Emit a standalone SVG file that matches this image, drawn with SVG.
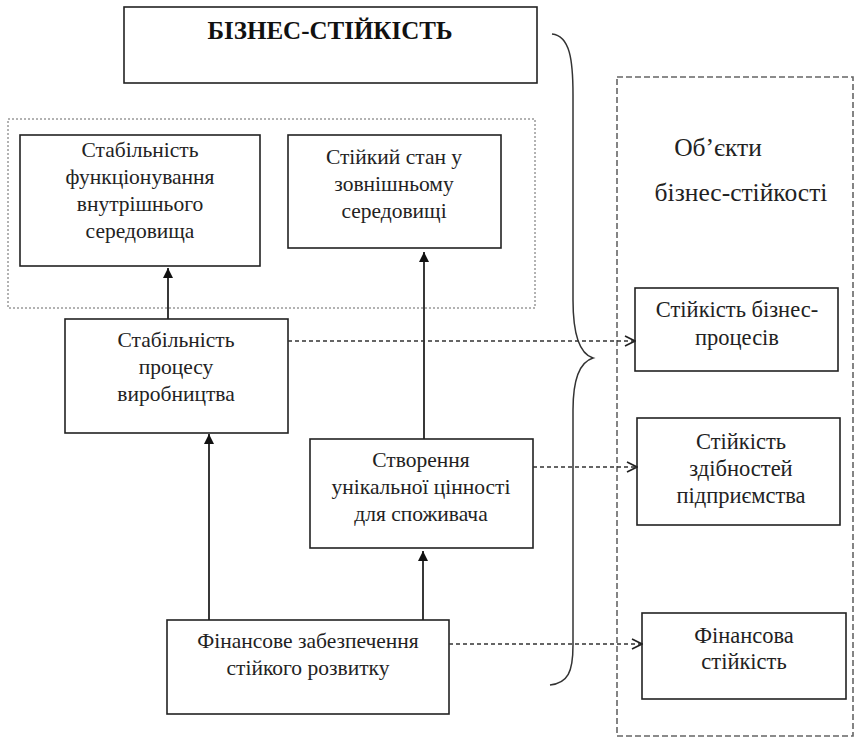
<svg xmlns="http://www.w3.org/2000/svg" width="857" height="739" viewBox="0 0 857 739">
<style>
.box{fill:#fff;stroke:#222;stroke-width:1.6}
text{font-family:'Liberation Serif','DejaVu Serif',serif;fill:#222;text-anchor:middle}
.t{font-size:21.5px}
.tb{font-size:25px;font-weight:bold;fill:#111}
.tr{font-size:22.5px}
.tl{font-size:25.5px}
.solid{stroke:#222;stroke-width:1.8;fill:none}
.dash{stroke:#333;stroke-width:1.6;stroke-dasharray:4 3;fill:none}
</style>
<defs>
<marker id="tri" viewBox="0 0 10 10" refX="10" refY="5" markerWidth="10" markerHeight="12" markerUnits="userSpaceOnUse" orient="auto">
<path d="M0,0 L10,5 L0,10 z" fill="#111"/>
</marker>
<marker id="open" viewBox="0 0 12 12" refX="11" refY="6" markerWidth="12" markerHeight="12" markerUnits="userSpaceOnUse" orient="auto">
<path d="M1,1 L11,6 L1,11" fill="none" stroke="#222" stroke-width="1.6"/>
</marker>
</defs>

<g id="frames">
<rect x="8" y="119" width="527" height="189" fill="none" stroke="#666" stroke-width="1" stroke-dasharray="2 2"/>
<rect x="617" y="77" width="236" height="659" fill="none" stroke="#666" stroke-width="1.6" stroke-dasharray="6 3"/>
<path d="M552,34 C570,36 573,60 573,95 L573,300 C573,335 580,354 593,358 C580,362 573,380 573,410 L573,645 C573,672 568,683 550,685" fill="none" stroke="#333" stroke-width="1.5"/>
</g>

<g id="title">
<rect class="box" x="124" y="7" width="413" height="76"/>
<text class="tb" x="330" y="39">БІЗНЕС-СТІЙКІСТЬ</text>
</g>

<g id="objects-label">
<text class="tl" x="718" y="156">Об’єкти</text>
<text class="tl" x="741" y="201">бізнес-стійкості</text>
</g>

<g id="stab-internal">
<rect class="box" x="20" y="135" width="240" height="131"/>
<text class="t" x="140" y="157">Стабільність</text>
<text class="t" x="140" y="184">функціонування</text>
<text class="t" x="140" y="211">внутрішнього</text>
<text class="t" x="140" y="238">середовища</text>
</g>

<g id="stable-external">
<rect class="box" x="288" y="135" width="213" height="113"/>
<text class="t" x="394" y="164">Стійкий стан у</text>
<text class="t" x="394" y="191">зовнішньому</text>
<text class="t" x="394" y="218">середовищі</text>
</g>

<g id="stab-production">
<rect class="box" x="65" y="319" width="223" height="114"/>
<text class="t" x="176" y="347">Стабільність</text>
<text class="t" x="176" y="374">процесу</text>
<text class="t" x="176" y="401">виробництва</text>
</g>

<g id="unique-value">
<rect class="box" x="310" y="439" width="223" height="109"/>
<text class="t" x="421" y="467">Створення</text>
<text class="t" x="421" y="494">унікальної цінності</text>
<text class="t" x="421" y="521">для споживача</text>
</g>

<g id="finance-support">
<rect class="box" x="167" y="620" width="282" height="94"/>
<text class="t" x="308" y="648">Фінансове забезпечення</text>
<text class="t" x="308" y="675">стійкого розвитку</text>
</g>

<g id="bp-stability">
<rect class="box" x="635" y="288" width="203" height="83"/>
<text class="tr" x="737" y="317">Стійкість бізнес-</text>
<text class="tr" x="737" y="345">процесів</text>
</g>

<g id="ability-stability">
<rect class="box" x="637" y="418" width="203" height="107"/>
<text class="tr" x="741" y="449">Стійкість</text>
<text class="tr" x="741" y="476">здібностей</text>
<text class="tr" x="741" y="503">підприємства</text>
</g>

<g id="fin-stability">
<rect class="box" x="642" y="613" width="204" height="86"/>
<text class="tr" x="744" y="643">Фінансова</text>
<text class="tr" x="744" y="669">стійкість</text>
</g>

<g id="connectors">
<line class="solid" x1="168" y1="319" x2="168" y2="268" marker-end="url(#tri)"/>
<line class="solid" x1="424" y1="439" x2="424" y2="252" marker-end="url(#tri)"/>
<line class="solid" x1="209" y1="620" x2="209" y2="434" marker-end="url(#tri)"/>
<line class="solid" x1="423" y1="620" x2="423" y2="551" marker-end="url(#tri)"/>
<line class="dash" x1="288" y1="341" x2="635" y2="341" marker-end="url(#open)"/>
<line class="dash" x1="533" y1="467" x2="637" y2="467" marker-end="url(#open)"/>
<line class="dash" x1="449" y1="644" x2="642" y2="644" marker-end="url(#open)"/>
</g>
</svg>
